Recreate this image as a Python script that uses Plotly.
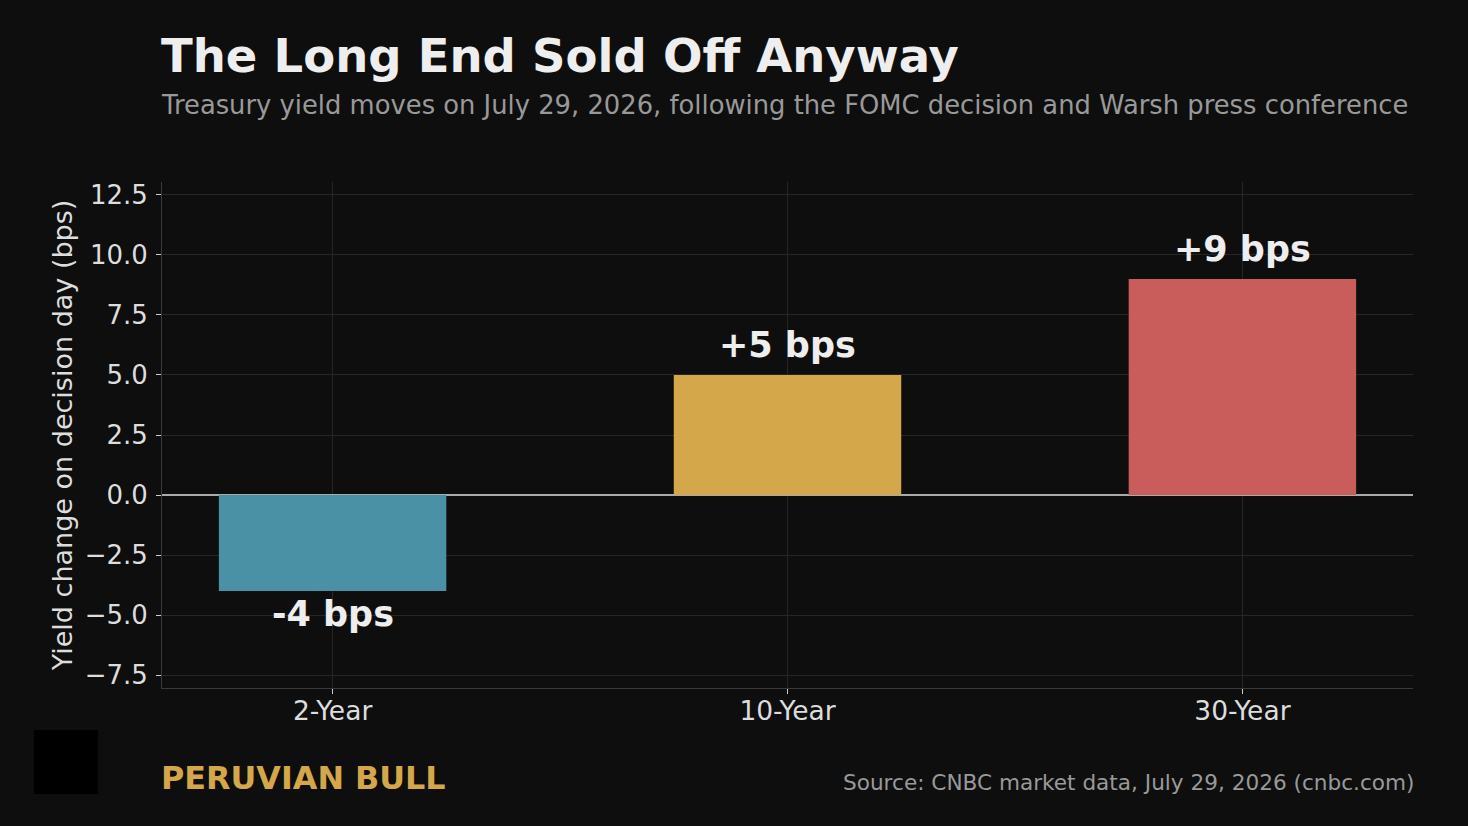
import plotly.graph_objects as go

# data
maturities = ["2-Year", "10-Year", "30-Year"]
yield_change_bps = [-4, 5, 9]
bar_colors = ["#4a91a5", "#d4a74a", "#c85d5c"]

BG = "#0e0e0e"
FONT = "DejaVu Sans"

labels = [f"{v:+d} bps" for v in yield_change_bps]

fig = go.Figure()
fig.add_trace(go.Bar(
    x=maturities, y=yield_change_bps,
    marker=dict(color=bar_colors, line=dict(width=0)),
    width=0.5,
    hoverinfo="skip",
))

# value labels above / below the bars
for cat, val, lab in zip(maturities, yield_change_bps, labels):
    fig.add_annotation(
        x=cat, y=val, text=f"<b>{lab}</b>", showarrow=False,
        yanchor="bottom" if val >= 0 else "top",
        yshift=8 if val >= 0 else -1,
        font=dict(family=FONT, size=35, color="#eeeeee"),
    )

# headline texts
fig.add_annotation(xref="paper", yref="paper", x=-0.0024, y=1.249, xanchor="left", yanchor="middle",
                   text="<b>The Long End Sold Off Anyway</b>", showarrow=False,
                   font=dict(family=FONT, size=46.5, color="#eeeeee"))
fig.add_annotation(xref="paper", yref="paper", x=-0.0024, y=1.152, xanchor="left", yanchor="middle",
                   text="Treasury yield moves on July 29, 2026, following the FOMC decision and Warsh press conference",
                   showarrow=False, font=dict(family=FONT, size=25.8, color="#999999"))
fig.add_annotation(xref="paper", yref="paper", x=-0.0024, y=-0.176, xanchor="left", yanchor="middle",
                   text="<b>PERUVIAN BULL</b>", showarrow=False,
                   font=dict(family=FONT, size=31.8, color="#d4a74a"))
fig.add_annotation(xref="paper", yref="paper", x=1.002, y=-0.186, xanchor="right", yanchor="middle",
                   text="Source: CNBC market data, July 29, 2026 (cnbc.com)", showarrow=False,
                   font=dict(family=FONT, size=21.6, color="#999999"))

# logo box
fig.add_shape(type="rect", xref="paper", yref="paper",
              x0=-0.1023, x1=-0.0512, y0=-0.2095, y1=-0.083,
              fillcolor="#000000", line=dict(width=0), layer="above")

fig.update_xaxes(
    range=[-0.375, 2.375], showgrid=True, gridcolor="#262626", gridwidth=1,
    showline=True, linecolor="#3a3a3a", linewidth=1,
    ticks="outside", ticklen=5, tickcolor="#cccccc",
    tickfont=dict(family=FONT, size=26.5, color="#dddddd"),
    ticklabelstandoff=-6,
    zeroline=False,
)
fig.update_yaxes(
    range=[-8.04, 13.04], tickvals=[-7.5, -5, -2.5, 0, 2.5, 5, 7.5, 10, 12.5],
    ticktext=["\u22127.5", "\u22125.0", "\u22122.5", "0.0", "2.5", "5.0", "7.5", "10.0", "12.5"],
    showgrid=True, gridcolor="#262626", gridwidth=1,
    showline=True, linecolor="#3a3a3a", linewidth=1,
    ticks="outside", ticklen=5, tickcolor="#cccccc",
    tickfont=dict(family=FONT, size=26, color="#dddddd"),
    ticklabelstandoff=3,
    zeroline=True, zerolinecolor="#aaaaaa", zerolinewidth=2,
    title=dict(text="Yield change on decision day (bps)", standoff=4,
               font=dict(family=FONT, size=27, color="#dddddd")),
)

fig.update_layout(
    width=1468, height=826,
    margin=dict(l=162, r=55, t=182, b=138),
    paper_bgcolor=BG, plot_bgcolor=BG,
    showlegend=False,
    font=dict(family=FONT, color="#dddddd"),
)

fig.write_html("out.html", config={"displayModeBar": False},
               post_script="document.body.style.margin='0';")
